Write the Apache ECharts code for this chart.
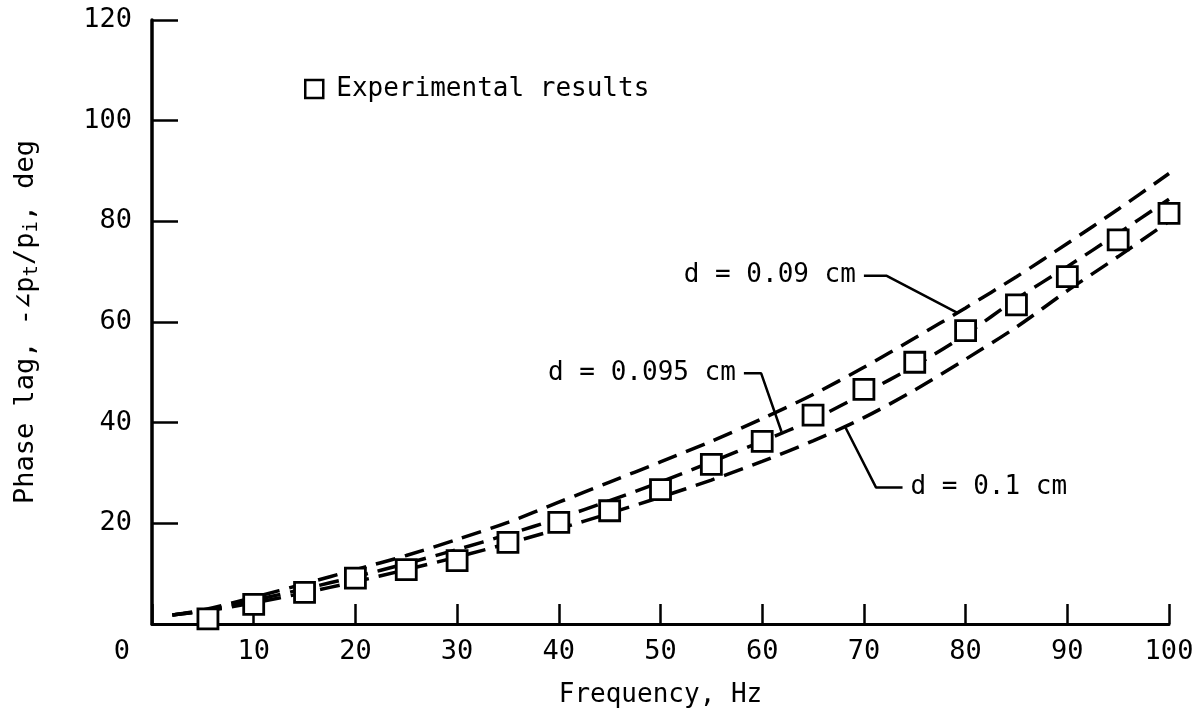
<!DOCTYPE html>
<html>
<head>
<meta charset="utf-8">
<title>Phase lag vs frequency</title>
<script src="https://cdn.jsdelivr.net/npm/echarts@6/dist/echarts.min.js"></script>
<style>
  html, body { margin: 0; padding: 0; background: #fff; }
  #chart { width: 1197px; height: 717px; }
</style>
</head>
<body>
<div id="chart"></div>
<script>
// Tick values
const xTicks = [0, 10, 20, 30, 40, 50, 60, 70, 80, 90, 100];
const yTicks = [0, 20, 40, 60, 80, 100, 120];

// Theory curves: phase lag (deg) at each frequency (Hz) for three tube diameters
const curveFreq = [2, 5, 10, 15, 20, 25, 30, 35, 40, 45, 50, 55, 60, 65, 70, 75, 80, 85, 90, 95, 100];
const lagD090 = [1.8, 2.8, 5.3, 8.0, 10.8, 13.6, 16.8, 20.2, 24.2, 28.2, 32.2, 36.3, 40.8, 45.6, 51.0, 56.8, 62.8, 69.0, 75.6, 82.4, 89.5];
const lagD095 = [1.8, 2.6, 4.7, 7.0, 9.4, 12.0, 14.8, 17.8, 21.0, 24.5, 28.2, 32.2, 36.3, 40.6, 45.8, 51.3, 57.5, 64.6, 71.0, 77.6, 84.4];
const lagD100 = [1.8, 2.5, 4.2, 6.2, 8.4, 10.8, 13.3, 16.0, 18.9, 22.0, 25.2, 28.6, 32.3, 36.4, 41.0, 46.5, 52.6, 59.0, 66.2, 73.0, 80.0];

// Experimental results
const expFreq = [5.5, 10, 15, 20, 25, 30, 35, 40, 45, 50, 55, 60, 65, 70, 75, 80, 85, 90, 95, 100];
const expLag  = [1.0, 3.9, 6.3, 9.1, 10.8, 12.6, 16.2, 20.2, 22.5, 26.7, 31.7, 36.3, 41.5, 46.6, 52.0, 58.3, 63.4, 69.0, 76.3, 81.6];

// Curve labels and their leader lines (in axis units)
const curveLabels = ['d = 0.09 cm', 'd = 0.095 cm', 'd = 0.1 cm'];
const leader090 = [[70.0, 69.2], [72.2, 69.2], [79.2, 61.8]];
const leader095 = [[58.2, 49.8], [59.9, 49.8], [61.9, 38.2]];
const leader100 = [[68.2, 39.0], [71.2, 27.1], [73.8, 27.1]];

const FONT = 'DejaVu Sans Mono';
const zip = (xs, ys) => xs.map((x, i) => [x, ys[i]]);

const dashed = {
  type: 'line', smooth: 0.3, symbol: 'none', silent: true,
  lineStyle: { color: '#000', width: 3.5, type: [20, 10], opacity: 1 },
  z: 2
};
const leader = {
  type: 'line', symbol: 'none', silent: true,
  lineStyle: { color: '#000', width: 2.5, opacity: 1 },
  z: 3
};
const textAnchor = (point, text, pos) => ({
  type: 'scatter', symbolSize: 0, silent: true,
  data: [point],
  itemStyle: { opacity: 1 },
  label: {
    show: true, position: pos, distance: 8,
    formatter: text,
    fontFamily: FONT, fontSize: 26, color: '#000', opacity: 1
  },
  z: 4
});

const chart = echarts.init(document.getElementById('chart'));
chart.setOption({
  animation: false,
  backgroundColor: '#fff',
  grid: { left: 152, right: 28, top: 20, bottom: 93 },
  legend: {
    left: 299, top: 71,
    data: ['Experimental results'],
    icon: 'rect', itemWidth: 18, itemHeight: 18,
    itemStyle: { color: '#fff', borderColor: '#000', borderWidth: 2.5, opacity: 1 },
    textStyle: { fontFamily: FONT, fontSize: 26, color: '#000', padding: [0, 0, 0, 8] },
    selectedMode: false
  },
  xAxis: {
    type: 'value', min: xTicks[0], max: xTicks[xTicks.length - 1], interval: 10,
    name: 'Frequency, Hz', nameLocation: 'middle', nameGap: 58,
    nameTextStyle: { fontFamily: FONT, fontSize: 26, color: '#000' },
    axisLine: { show: true, lineStyle: { color: '#000', width: 3 } },
    axisTick: { show: true, inside: true, length: 20, lineStyle: { color: '#000', width: 2.5 } },
    axisLabel: {
      margin: 14, fontFamily: FONT, fontSize: 27, color: '#000',
      formatter: v => (v === 0 ? '{o|0}' : String(v)),
      rich: { o: { fontFamily: FONT, fontSize: 27, color: '#000', padding: [0, 60, 0, 0] } }
    },
    splitLine: { show: false }
  },
  yAxis: {
    type: 'value', min: yTicks[0], max: yTicks[yTicks.length - 1], interval: 20,
    name: 'Phase lag, -\u2220p{s|t}/p{s|i}, deg', nameLocation: 'middle', nameGap: 110,
    nameTextStyle: {
      fontFamily: FONT, fontSize: 27, color: '#000',
      rich: { s: { fontFamily: FONT, fontSize: 19, color: '#000', padding: [14, 0, 0, 0] } }
    },
    axisLine: { show: true, lineStyle: { color: '#000', width: 3.5 } },
    axisTick: { show: true, inside: true, length: 26, lineStyle: { color: '#000', width: 2.5 } },
    axisLabel: {
      margin: 20, fontFamily: FONT, fontSize: 27, color: '#000',
      formatter: v => (v === 0 ? '' : String(v))
    },
    splitLine: { show: false }
  },
  series: [
    Object.assign({ name: curveLabels[0], data: zip(curveFreq, lagD090) }, dashed),
    Object.assign({ name: curveLabels[1], data: zip(curveFreq, lagD095) }, dashed),
    Object.assign({ name: curveLabels[2], data: zip(curveFreq, lagD100) }, dashed),
    Object.assign({ data: leader090 }, leader),
    Object.assign({ data: leader095 }, leader),
    Object.assign({ data: leader100 }, leader),
    textAnchor(leader090[0], curveLabels[0], 'left'),
    textAnchor(leader095[0], curveLabels[1], 'left'),
    textAnchor(leader100[2], curveLabels[2], 'right'),
    {
      name: 'Experimental results', type: 'scatter',
      data: zip(expFreq, expLag),
      symbol: 'rect', symbolSize: 20,
      itemStyle: { color: '#fff', borderColor: '#000', borderWidth: 2.8, opacity: 1 },
      z: 5
    }
  ]
});
</script>
</body>
</html>
